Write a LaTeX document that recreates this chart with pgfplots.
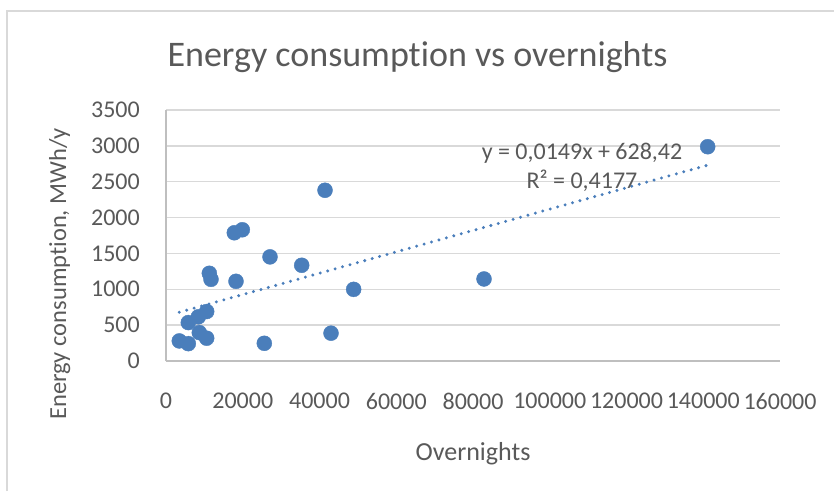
\documentclass[border=0pt]{standalone}
\usepackage{fontspec}
\setmainfont{Carlito}[Ligatures={NoCommon}]
\usepackage{pgfplots}
\usepackage{pgfplotstable}
\pgfplotsset{compat=1.18}
\definecolor{txt}{HTML}{595959}
\definecolor{gridc}{HTML}{D9D9D9}
\definecolor{axl}{HTML}{BFBFBF}
\definecolor{dotc}{HTML}{4A7EBB}
\pgfplotstableread{
x y
3466 280
5811 242
5811 536
8417 616
10600 690
8677 396
10600 318
11290 1223
11726 1139
17800 1788
19883 1830
18241 1111
27100 1452
25616 247
41433 2381
35360 1335
43000 388
48900 999
82870 1144
141150 2988
}\datatab
\begin{document}
\begin{tikzpicture}[x=1pt,y=1pt]
\path[use as bounding box] (0,0) rectangle (834,491);
\draw[gridc, line width=1.5pt] (7,0) -- (7,480) -- (834,480);
\begin{axis}[
  at={(166pt,130pt)}, anchor=south west,
  scale only axis, width=614pt, height=251pt,
  xmin=0, xmax=160000, ymin=0, ymax=3500,
  xtick={0,20000,...,160000}, ytick={0,500,...,3500},
  scaled ticks=false,
  /pgf/number format/.cd, fixed, 1000 sep={}, assume math mode=true, /pgfplots/.cd,
  axis x line*=bottom, axis y line*=left,
  axis line style={draw=axl, line width=1.5pt, -},
  major tick length=0pt,
  ymajorgrids, grid style={gridc, line width=1.5pt},
  ticklabel style={font=\fontsize{24}{28}\selectfont, text=txt},
  yticklabel style={anchor=east, inner sep=0pt, xshift=-26pt},
  xticklabel style={anchor=north, inner sep=0pt, yshift=-32pt},
  clip=false,
]
\addplot[dotc, line width=3.3pt, line cap=round, dash pattern=on 0pt off 7.7pt] coordinates {(3466,680) (141150,2731)};
\addplot[only marks, mark=*, mark size=7.5pt, mark options={draw=dotc, fill=dotc}] table[x=x,y=y] {\datatab};
\end{axis}
\node[anchor=base, text=txt, font=\fontsize{36}{42}\selectfont] at (417.5,424) {Energy consumption vs overnights};
\node[anchor=base, text=txt, font=\fontsize{26}{30}\selectfont] at (473,31) {Overnights};
\node[anchor=base, rotate=90, text=txt, font=\fontsize{24.5}{30}\selectfont] at (66,217) {Energy consumption, MWh/y};
\node[anchor=base, text=txt, font=\fontsize{24}{28}\selectfont] at (582,332) {y = 0,0149x + 628,42};
\node[anchor=base, text=txt, font=\fontsize{24}{28}\selectfont] at (582,303) {R² = 0,4177};
\end{tikzpicture}
\end{document}
